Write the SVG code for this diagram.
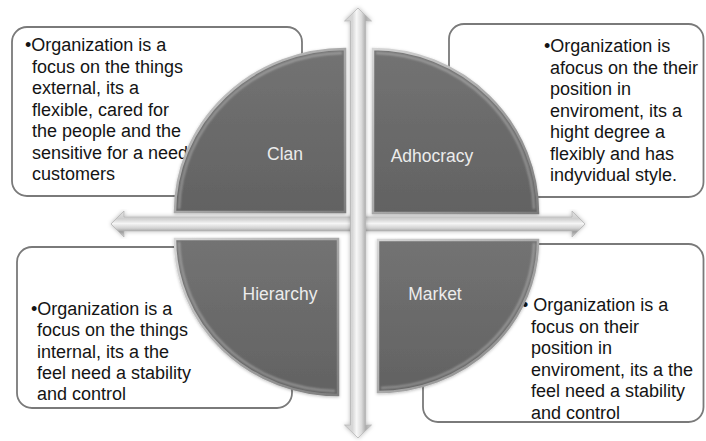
<svg xmlns="http://www.w3.org/2000/svg" width="706" height="441" viewBox="0 0 706 441">
  <defs>
    <style>
      .box { fill: #ffffff; stroke: #7a7a7a; stroke-width: 1.8; }
      .body { font-family: "Liberation Sans", Arial, sans-serif; font-size: 18px; fill: #141414; }
      .label { font-family: "Liberation Sans", Arial, sans-serif; font-size: 17.5px; fill: #ececec; text-anchor: middle; }
      .quad { fill: url(#quadFill); stroke: url(#quadRim); stroke-width: 2.5; filter: url(#quadShadow); }
      .rim { fill: none; stroke: #ffffff; stroke-opacity: 0.35; stroke-width: 2; filter: url(#soft); }
      .arrow { stroke: #b4b4b4; stroke-width: 0.8; filter: url(#arrowShadow); }
    </style>
    <linearGradient id="quadFill" x1="0" y1="0" x2="0" y2="1">
      <stop offset="0" stop-color="#737373"/>
      <stop offset="1" stop-color="#626262"/>
    </linearGradient>
    <linearGradient id="quadRim" x1="0" y1="0" x2="1" y2="1">
      <stop offset="0" stop-color="#d6d6d6"/>
      <stop offset="0.5" stop-color="#a9a9a9"/>
      <stop offset="1" stop-color="#7c7c7c"/>
    </linearGradient>
    <linearGradient id="vShaft" gradientUnits="userSpaceOnUse" x1="344" y1="0" x2="372" y2="0">
      <stop offset="0" stop-color="#d0d0d0"/>
      <stop offset="0.3" stop-color="#d6d6d6"/>
      <stop offset="0.45" stop-color="#f7f7f7"/>
      <stop offset="0.62" stop-color="#dcdcdc"/>
      <stop offset="0.78" stop-color="#ababab"/>
      <stop offset="1" stop-color="#d4d4d4"/>
    </linearGradient>
    <linearGradient id="hShaft" gradientUnits="userSpaceOnUse" x1="0" y1="211" x2="0" y2="237">
      <stop offset="0" stop-color="#e2e2e2"/>
      <stop offset="0.3" stop-color="#cfcfcf"/>
      <stop offset="0.48" stop-color="#f5f5f5"/>
      <stop offset="0.66" stop-color="#d2d2d2"/>
      <stop offset="0.8" stop-color="#9d9d9d"/>
      <stop offset="1" stop-color="#d8d8d8"/>
    </linearGradient>
    <filter id="quadShadow" x="-10%" y="-10%" width="120%" height="120%">
      <feGaussianBlur in="SourceAlpha" stdDeviation="1.5"/>
      <feOffset dx="0" dy="1" result="b"/>
      <feFlood flood-color="#000" flood-opacity="0.25"/>
      <feComposite in2="b" operator="in"/>
      <feMerge><feMergeNode/><feMergeNode in="SourceGraphic"/></feMerge>
    </filter>
    <filter id="arrowShadow" x="-20%" y="-5%" width="140%" height="110%">
      <feGaussianBlur in="SourceAlpha" stdDeviation="2"/>
      <feFlood flood-color="#000" flood-opacity="0.3"/>
      <feComposite operator="in" in2="SourceAlpha" result="dummy"/>
      <feGaussianBlur in="SourceAlpha" stdDeviation="2" result="blur"/>
      <feFlood flood-color="#000" flood-opacity="0.28"/>
      <feComposite in2="blur" operator="in"/>
      <feMerge><feMergeNode/><feMergeNode in="SourceGraphic"/></feMerge>
    </filter>
    <filter id="soft"><feGaussianBlur stdDeviation="1"/></filter>
  </defs>

  <!-- text boxes (behind the quadrant disc) -->
  <g id="box-clan">
    <rect class="box" x="12" y="27" width="290" height="169" rx="15"/>
    <text class="body" x="25" y="51">•Organization is a</text>
    <text class="body" x="32" y="72.5">focus on the things</text>
    <text class="body" x="32" y="94">external, its a</text>
    <text class="body" x="32" y="115.5">flexible, cared for</text>
    <text class="body" x="32" y="137">the people and the</text>
    <text class="body" x="32" y="158.5">sensitive for a need</text>
    <text class="body" x="32" y="180">customers</text>
  </g>

  <g id="box-adhocracy">
    <rect class="box" x="449" y="24" width="254.5" height="173" rx="15"/>
    <text class="body" x="544" y="52">•Organization is</text>
    <text class="body" x="550" y="73.5">afocus on the their</text>
    <text class="body" x="550" y="95">position in</text>
    <text class="body" x="550" y="116.5">enviroment, its a</text>
    <text class="body" x="550" y="138">hight degree a</text>
    <text class="body" x="550" y="159.5">flexibly and has</text>
    <text class="body" x="550" y="181">indyvidual style.</text>
  </g>

  <g id="box-hierarchy">
    <rect class="box" x="17" y="247" width="275" height="161" rx="15"/>
    <text class="body" x="31" y="315">•Organization is a</text>
    <text class="body" x="37" y="336.3">focus on the things</text>
    <text class="body" x="37" y="357.6">internal, its a the</text>
    <text class="body" x="37" y="378.9">feel need a stability</text>
    <text class="body" x="37" y="400.2">and control</text>
  </g>

  <g id="box-market">
    <rect class="box" x="423" y="244" width="280.5" height="178" rx="15"/>
    <text class="body" x="522" y="311">• Organization is a</text>
    <text class="body" x="531" y="332.5">focus on their</text>
    <text class="body" x="531" y="354">position in</text>
    <text class="body" x="531" y="375.5">enviroment, its a the</text>
    <text class="body" x="531" y="397">feel need a stability</text>
    <text class="body" x="531" y="418.5">and control</text>
  </g>

  <!-- quadrant disc -->
  <g id="quad-clan">
    <path class="quad" d="M345,212 L175,212 A170,163 0 0 1 345,49 Z"/>
    <path class="rim" d="M179,209 A166,159 0 0 1 342,53"/>
    <text class="label" x="285" y="160">Clan</text>
  </g>
  <g id="quad-adhocracy">
    <path class="quad" d="M373,213 L373,49 A165,164 0 0 1 538,213 Z"/>
    <path class="rim" d="M376,53 A161,160 0 0 1 534,209"/>
    <text class="label" x="432" y="162">Adhocracy</text>
  </g>
  <g id="quad-hierarchy">
    <path class="quad" d="M338,239 L338,395 A163,156 0 0 1 175,239 Z"/>
    <path class="rim" d="M335,391 A159,152 0 0 1 179,242"/>
    <text class="label" x="280" y="300">Hierarchy</text>
  </g>
  <g id="quad-market">
    <path class="quad" d="M378,240 L538,240 A160,152 0 0 1 378,392 Z"/>
    <path class="rim" d="M534,243 A156,148 0 0 1 381,388"/>
    <text class="label" x="435" y="300">Market</text>
  </g>

  <!-- axes: double-headed arrows -->
  <g id="connectors">
    <path class="arrow" fill="url(#hShaft)" d="M111,224 L124,211 L124,217 L572,217 L572,211 L585,224 L572,237 L572,231 L124,231 L124,237 Z"/>
    <path class="arrow" fill="url(#vShaft)" d="M358,8 L371.5,21 L365.5,21 L365.5,425 L371.5,425 L358,438 L344.5,425 L350.5,425 L350.5,21 L344.5,21 Z"/>
  </g>
</svg>
